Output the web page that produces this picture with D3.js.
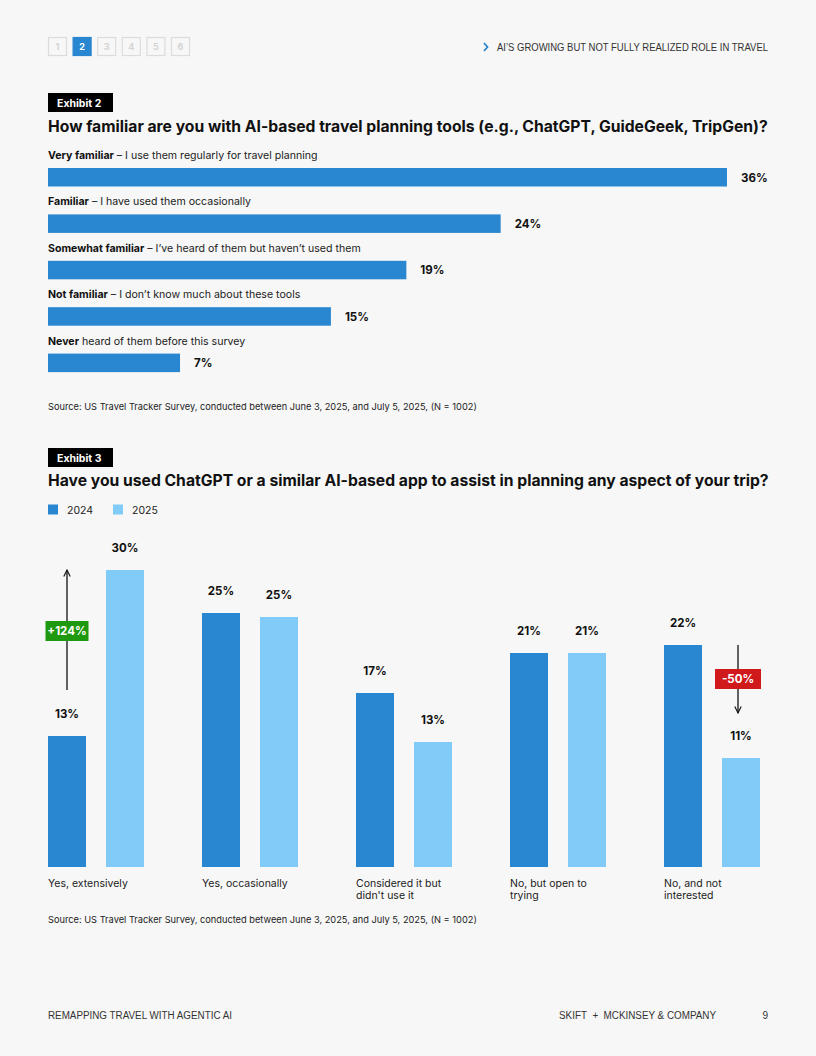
<!DOCTYPE html>
<html>
<head>
<meta charset="utf-8">
<script src="https://cdn.jsdelivr.net/npm/d3@7"></script>
<style>
  html, body { margin: 0; padding: 0; background: #f7f7f7; }
  svg { display: block; font-family: Inter, "Noto Sans", sans-serif; }
</style>
</head>
<body>
<div id="page"></div>
<script>
// Exhibit 2 data
const familiarityBold = ["Very familiar", "Familiar", "Somewhat familiar", "Not familiar", "Never"];
const familiarityRest = [
    " – I use them regularly for travel planning",
    " – I have used them occasionally",
    " – I’ve heard of them but haven’t used them",
    " – I don’t know much about these tools",
    " heard of them before this survey"
];
const familiarityValues = [36, 24, 19, 15, 7];

// Exhibit 3 data
const usageCategories = [
    ["Yes, extensively"],
    ["Yes, occasionally"],
    ["Considered it but", "didn't use it"],
    ["No, but open to", "trying"],
    ["No, and not", "interested"]
];
const years = ["2024", "2025"];
const values2024 = [13.1, 25.4, 17.4, 21.4, 22.2];
const values2025 = [29.7, 25.0, 12.5, 21.4, 10.9];

const pages = ["1", "2", "3", "4", "5", "6"];
const sourceNote = "Source: US Travel Tracker Survey, conducted between June 3, 2025, and July 5, 2025, (N = 1002)";

const W = 816, H = 1056;
const dark = "#2986d0", light = "#80cbf8", ink = "#111";

const svg = d3.select("#page").append("svg")
    .attr("width", W)
    .attr("height", H);

svg.append("rect").attr("width", W).attr("height", H).attr("fill", "#f7f7f7");

// ---- page header ----
const pg = svg.append("g").selectAll("g")
    .data(pages)
    .enter().append("g")
    .attr("transform", (d, i) => `translate(${48.5 + i * 24.6},37.5)`);

pg.append("rect")
    .attr("width", 18).attr("height", 18)
    .attr("fill", (d, i) => i === 1 ? dark : "none")
    .attr("stroke", (d, i) => i === 1 ? dark : "#dcdcdc")
    .attr("stroke-width", 1.2);

pg.append("text")
    .attr("x", 9).attr("y", 12.5)
    .attr("text-anchor", "middle")
    .attr("font-size", 9).attr("font-weight", 700)
    .attr("fill", (d, i) => i === 1 ? "#fff" : "#d4d4d4")
    .text(d => d);

svg.append("path")
    .attr("d", "M484,43 L487.5,47 L484,51")
    .attr("fill", "none").attr("stroke", dark).attr("stroke-width", 1.8);

svg.append("text")
    .attr("x", 497).attr("y", 51)
    .attr("font-family", "'Liberation Sans', Arial, sans-serif")
    .attr("font-size", 10.5).attr("fill", "#333")
    .attr("textLength", 271).attr("lengthAdjust", "spacingAndGlyphs")
    .text("AI’S GROWING BUT NOT FULLY REALIZED ROLE IN TRAVEL");

// ---- helpers ----
function exhibitTag(y, label) {
    svg.append("rect").attr("x", 48).attr("y", y).attr("width", 65).attr("height", 19).attr("fill", "#000");
    svg.append("text")
        .attr("x", 57).attr("y", y + 13.5)
        .attr("font-size", 10.5).attr("font-weight", 700).attr("fill", "#fff")
        .text(label);
}

function title(y, txt) {
    svg.append("text")
        .attr("x", 48).attr("y", y)
        .attr("font-size", 15.7).attr("font-weight", 700).attr("fill", ink)
        .text(txt);
}

function source(y) {
    svg.append("text")
        .attr("x", 48).attr("y", y)
        .attr("font-size", 9.25).attr("fill", "#222")
        .text(sourceNote);
}

// ---- Exhibit 2 ----
exhibitTag(93, "Exhibit 2");
title(132, "How familiar are you with AI-based travel planning tools (e.g., ChatGPT, GuideGeek, TripGen)?");

const x2 = d3.scaleLinear().domain([0, 36]).range([48, 727]);
const y2 = d3.scaleBand()
    .domain(d3.range(familiarityValues.length))
    .range([146, 378])
    .paddingInner(0)
    .paddingOuter(0);

const rows = svg.append("g").selectAll("g")
    .data(familiarityValues)
    .enter().append("g")
    .attr("transform", (d, i) => `translate(0,${y2(i)})`);

const lbl = rows.append("text")
    .attr("x", 48).attr("y", 13)
    .attr("font-size", 10.6).attr("fill", "#222");
lbl.append("tspan").attr("font-weight", 700).attr("fill", ink).text((d, i) => familiarityBold[i]);
lbl.append("tspan").text((d, i) => familiarityRest[i]);

rows.append("rect")
    .attr("x", x2(0))
    .attr("y", 22)
    .attr("width", d => x2(d) - x2(0))
    .attr("height", 18.5)
    .attr("fill", dark);

rows.append("text")
    .attr("x", d => x2(d) + 14)
    .attr("y", 35.5)
    .attr("font-size", 11.5).attr("font-weight", 700).attr("fill", ink)
    .text(d => d + "%");

source(410);

// ---- Exhibit 3 ----
exhibitTag(448, "Exhibit 3");
title(486, "Have you used ChatGPT or a similar AI-based app to assist in planning any aspect of your trip?");

const legend = svg.append("g").selectAll("g")
    .data(years)
    .enter().append("g")
    .attr("transform", (d, i) => `translate(${48 + i * 65},504.5)`);
legend.append("rect").attr("width", 10).attr("height", 10).attr("fill", (d, i) => i === 0 ? dark : light);
legend.append("text").attr("x", 19).attr("y", 9).attr("font-size", 10.5).attr("fill", "#222").text(d => d);

const baseY = 867;
const x3 = d3.scaleBand()
    .domain(d3.range(usageCategories.length))
    .range([48, 48 + 4 * 154 + 96])
    .paddingInner(58 / 154)
    .paddingOuter(0);
const xs = d3.scaleBand()
    .domain(years)
    .range([0, x3.bandwidth()])
    .paddingInner(20 / 58)
    .paddingOuter(0);
const y3 = d3.scaleLinear().domain([0, 30]).range([baseY, baseY - 300]);

const series = [values2024, values2025];
const groups = svg.append("g").selectAll("g")
    .data(usageCategories)
    .enter().append("g")
    .attr("transform", (d, i) => `translate(${x3(i)},0)`);

groups.selectAll("rect")
    .data((d, i) => years.map((yr, k) => ({ yr, v: series[k][i] })))
    .enter().append("rect")
    .attr("x", d => xs(d.yr))
    .attr("y", d => y3(d.v))
    .attr("width", xs.bandwidth())
    .attr("height", d => baseY - y3(d.v))
    .attr("fill", d => d.yr === "2024" ? dark : light);

groups.selectAll("text.val")
    .data((d, i) => years.map((yr, k) => ({ yr, v: series[k][i] })))
    .enter().append("text")
    .attr("class", "val")
    .attr("x", d => xs(d.yr) + xs.bandwidth() / 2)
    .attr("y", d => y3(d.v) - 18)
    .attr("text-anchor", "middle")
    .attr("font-size", 11.5).attr("font-weight", 700).attr("fill", ink)
    .text(d => Math.round(d.v) + "%");

groups.append("text")
    .attr("y", 887)
    .attr("font-size", 10.5).attr("fill", "#222")
    .selectAll("tspan")
    .data(d => d)
    .enter().append("tspan")
    .attr("x", 0)
    .attr("dy", (d, i) => i === 0 ? 0 : 12)
    .text(d => d);

// change annotations
svg.append("defs").html(
    '<marker id="ah" viewBox="0 0 10 10" refX="9" refY="5" markerWidth="8" markerHeight="8" orient="auto-start-reverse" markerUnits="userSpaceOnUse">' +
    '<path d="M1,1 L9,5 L1,9" fill="none" stroke="#111" stroke-width="1.4"/></marker>');

function changeNote(cx, yFrom, yTo, boxY, boxW, color, txt) {
    svg.append("line")
        .attr("x1", cx).attr("x2", cx)
        .attr("y1", yFrom).attr("y2", yTo)
        .attr("stroke", "#111").attr("stroke-width", 1.3)
        .attr("marker-end", "url(#ah)");
    svg.append("rect")
        .attr("x", cx - boxW / 2).attr("y", boxY)
        .attr("width", boxW).attr("height", 20)
        .attr("fill", color);
    svg.append("text")
        .attr("x", cx).attr("y", boxY + 14)
        .attr("text-anchor", "middle")
        .attr("font-size", 11.5).attr("font-weight", 700).attr("fill", "#fff")
        .text(txt);
}

const bx0 = x3(0) + xs("2024") + xs.bandwidth() / 2;
changeNote(bx0, y3(values2024[0]) - 46, y3(values2025[0]), 621, 43, "#1f9a10", "+124%");
const bx4 = x3(4) + xs("2025") + xs.bandwidth() / 2 - 3;
changeNote(bx4, y3(values2024[4]), y3(values2025[4]) - 45, 669, 46, "#d0191b", "-50%");

source(923);

// ---- footer ----
svg.append("text")
    .attr("x", 48).attr("y", 1019)
    .attr("font-family", "'Liberation Sans', Arial, sans-serif")
    .attr("font-size", 10).attr("fill", "#333")
    .attr("textLength", 184).attr("lengthAdjust", "spacingAndGlyphs")
    .text("REMAPPING TRAVEL WITH AGENTIC AI");

svg.append("text")
    .attr("x", 559).attr("y", 1019)
    .attr("font-family", "'Liberation Sans', Arial, sans-serif")
    .attr("font-size", 10).attr("fill", "#333")
    .attr("textLength", 157).attr("lengthAdjust", "spacingAndGlyphs")
    .text("SKIFT\u00a0\u00a0+\u00a0\u00a0MCKINSEY & COMPANY");

svg.append("text")
    .attr("x", 768).attr("y", 1019)
    .attr("text-anchor", "end")
    .attr("font-family", "'Liberation Sans', Arial, sans-serif")
    .attr("font-size", 10).attr("fill", "#333")
    .text("9");
</script>
</body>
</html>
